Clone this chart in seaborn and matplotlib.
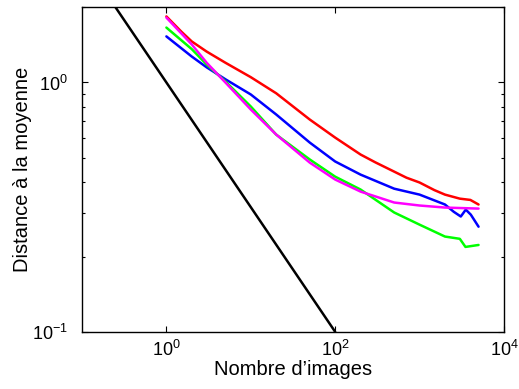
import numpy as np
import pandas as pd
import matplotlib
matplotlib.use("Agg")
import matplotlib.pyplot as plt
import matplotlib.ticker as mticker
import seaborn as sns

# Valeurs (distance à la moyenne selon le nombre d'images)
x_rouge = [1, 1.5, 2, 3, 5, 10, 20, 50, 100, 200, 300, 500, 700, 1000, 1500, 2000, 3000, 4000, 5000]
rouge = [1.84, 1.60, 1.46, 1.33, 1.20, 1.05, 0.905, 0.710, 0.601, 0.514, 0.478, 0.439,
         0.415, 0.397, 0.370, 0.355, 0.342, 0.338, 0.324]

x_magenta = [1, 2, 3, 5, 10, 20, 50, 100, 200, 500, 1000, 2000, 5000]
magenta = [1.82, 1.42, 1.20, 1.00, 0.779, 0.618, 0.477, 0.408, 0.365, 0.330, 0.321, 0.315, 0.312]

x_bleu = [1, 2, 3, 5, 10, 20, 50, 100, 200, 500, 1000, 2000, 2540, 3080, 3530, 4050, 5000]
bleu = [1.53, 1.27, 1.15, 1.03, 0.895, 0.744, 0.574, 0.482, 0.427, 0.375, 0.355, 0.324,
        0.303, 0.290, 0.309, 0.295, 0.264]

x_vert = [1, 2, 3, 5, 10, 20, 50, 100, 200, 500, 1000, 2000, 3000, 3500, 5000]
vert = [1.66, 1.36, 1.18, 1.01, 0.801, 0.618, 0.491, 0.419, 0.372, 0.301, 0.269, 0.241,
        0.236, 0.219, 0.223]

# droite de référence en noir
x_ref = [0.25, 100]
y_ref = [2.0, 0.1]

sns.set_style("ticks")
plt.rcParams['font.family'] = ['Liberation Sans', 'DejaVu Sans']
plt.rcParams['mathtext.fontset'] = 'custom'
plt.rcParams['mathtext.rm'] = 'Liberation Sans'
plt.rcParams['mathtext.it'] = 'Liberation Sans:italic'
plt.rcParams['mathtext.bf'] = 'Liberation Sans:bold'
plt.rcParams['text.color'] = 'black'
plt.rcParams['axes.labelcolor'] = 'black'
plt.rcParams['xtick.color'] = 'black'
plt.rcParams['ytick.color'] = 'black'

fig = plt.figure(figsize=(5.19, 3.89), dpi=100)
ax = fig.add_axes([0.158, 0.147, 0.813, 0.834])

series = [
    (x_ref, y_ref, 'black'),
    (x_rouge, rouge, '#ff0000'),
    (x_bleu, bleu, '#0000ff'),
    (x_vert, vert, '#00ff00'),
    (x_magenta, magenta, '#ff00ff'),
]
for xs, ys, c in series:
    sns.lineplot(x=xs, y=ys, color=c, linewidth=1.8, ax=ax, estimator=None, sort=False)

ax.set_xscale('log')
ax.set_yscale('log')
ax.set_xlim(0.1, 1e4)
ax.set_ylim(0.1, 2.0)

ax.set_xticks([1, 100, 10000])
ax.xaxis.set_minor_locator(mticker.NullLocator())
ax.yaxis.set_minor_formatter(mticker.NullFormatter())

ax.tick_params(which='both', direction='in', top=True, right=True,
               labelsize=13, width=0.8, color='black', labelcolor='black')
ax.tick_params(which='major', length=4)
ax.tick_params(which='minor', length=2.5)
ax.tick_params(axis='x', which='major', pad=6)
ax.tick_params(axis='y', which='major', pad=10)
for s in ax.spines.values():
    s.set_linewidth(1.0)
    s.set_color('black')

ax.set_xlabel("Nombre d’images", fontsize=14.5, labelpad=0)
ax.set_ylabel("Distance à la moyenne", fontsize=14.5, labelpad=0)

fig.savefig("out.png", dpi=100)
